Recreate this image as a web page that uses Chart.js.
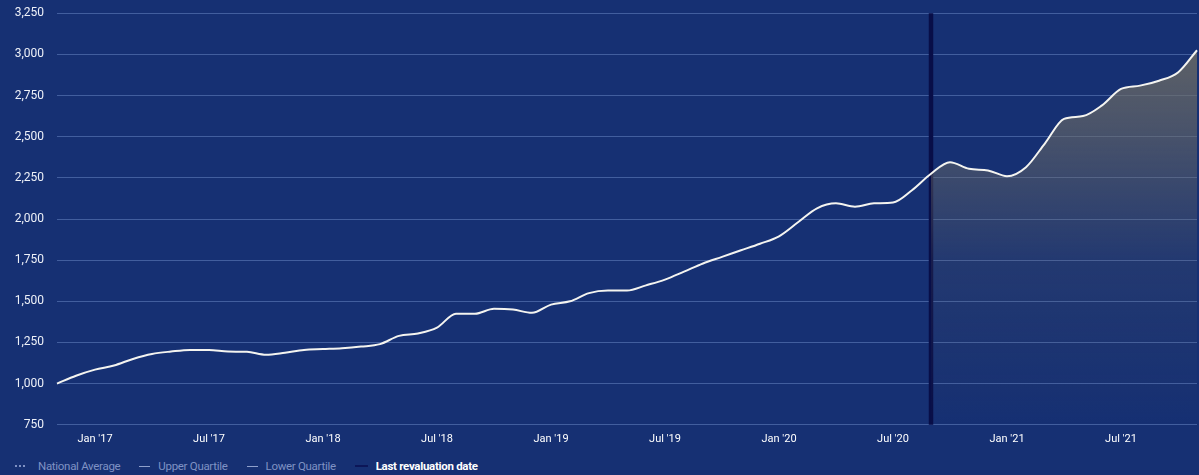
<!DOCTYPE html>
<html>
<head>
<meta charset="utf-8">
<script src="https://cdn.jsdelivr.net/npm/chart.js@4"></script>
<style>
  html, body { margin: 0; padding: 0; background: #163073; width: 1199px; height: 475px; overflow: hidden; }
  #wrap { position: absolute; left: 0; top: -7px; width: 1199px; height: 461px; }
  #legend { position: absolute; left: 15px; top: 459px; font-family: Roboto, "Liberation Sans", sans-serif; font-size: 11.5px; color: #7f92c4; display: flex; align-items: center; letter-spacing: -0.3px; }
  #legend .item { display: flex; align-items: center; margin-right: 19px; }
  #legend .mk { display: inline-block; width: 11px; margin-right: 8px; }
  #legend .b { color: #ffffff; font-weight: bold; }
</style>
</head>
<body>
<div id="wrap"><canvas id="c"></canvas></div>
<div id="legend">
  <div class="item"><span class="mk" style="border-top:2px dotted #7f92c4;width:10px;margin-right:13px"></span>National Average</div>
  <div class="item"><span class="mk" style="border-top:1.5px solid #8fa0cc"></span>Upper Quartile</div>
  <div class="item"><span class="mk" style="border-top:1.5px solid #8fa0cc"></span>Lower Quartile</div>
  <div class="item"><span class="mk" style="border-top:2px solid #0c1658;width:13px"></span><span class="b">Last revaluation date</span></div>
</div>
<script>
const months = ["Nov '16","Dec '16",
  "Jan '17","Feb '17","Mar '17","Apr '17","May '17","Jun '17","Jul '17","Aug '17","Sep '17","Oct '17","Nov '17","Dec '17",
  "Jan '18","Feb '18","Mar '18","Apr '18","May '18","Jun '18","Jul '18","Aug '18","Sep '18","Oct '18","Nov '18","Dec '18",
  "Jan '19","Feb '19","Mar '19","Apr '19","May '19","Jun '19","Jul '19","Aug '19","Sep '19","Oct '19","Nov '19","Dec '19",
  "Jan '20","Feb '20","Mar '20","Apr '20","May '20","Jun '20","Jul '20","Aug '20","Sep '20","Oct '20","Nov '20","Dec '20",
  "Jan '21","Feb '21","Mar '21","Apr '21","May '21","Jun '21","Jul '21","Aug '21","Sep '21","Oct '21","Nov '21"];
const values = [1000,1048,1085,1110,1150,1180,1195,1205,1205,1195,1193,1175,1188,1205,1210,
  1215,1225,1240,1290,1305,1340,1425,1425,1455,1450,1430,1480,1500,1550,1565,
  1565,1597,1632,1680,1730,1770,1810,1850,1895,1980,2065,2095,2075,2095,2100,
  2175,2275,2345,2305,2295,2260,2315,2460,2608,2625,2690,2790,2810,2840,2890,3025];
const yTicks = [750,1000,1250,1500,1750,2000,2250,2500,2750,3000,3250];
const revaluationLabel = "Sep '20";
const revalIndex = months.indexOf(revaluationLabel);
const filledValues = values.map((v, i) => i >= revalIndex ? v : null);

const revalPlugin = {
  id: 'reval',
  beforeDatasetsDraw(chart) {
    const x = chart.scales.x.getPixelForValue(revalIndex);
    const { top, bottom } = chart.chartArea;
    const ctx = chart.ctx;
    ctx.save();
    ctx.strokeStyle = '#080e48';
    ctx.lineWidth = 4.5;
    ctx.beginPath();
    ctx.moveTo(x, top);
    ctx.lineTo(x, bottom);
    ctx.stroke();
    ctx.restore();
  }
};

const ctx = document.getElementById('c').getContext('2d');
new Chart(ctx, {
  type: 'line',
  data: {
    labels: months,
    datasets: [
      {
        label: 'Index',
        data: values,
        borderColor: '#f4f4f0',
        borderWidth: 2,
        pointRadius: 0,
        tension: 0.4,
        cubicInterpolationMode: 'monotone',
        fill: false,
        order: 0
      },
      {
        label: 'fill',
        data: filledValues,
        borderWidth: 0,
        borderColor: 'rgba(0,0,0,0)',
        pointRadius: 0,
        tension: 0.4,
        cubicInterpolationMode: 'monotone',
        fill: 'start',
        order: 1,
        backgroundColor(context) {
          const ca = context.chart.chartArea;
          if (!ca) return 'rgba(110,108,100,0.6)';
          const g = context.chart.ctx.createLinearGradient(0, ca.top, 0, ca.bottom);
          g.addColorStop(0, 'rgba(112,110,100,0.9)');
          g.addColorStop(0.3, 'rgba(112,110,100,0.55)');
          g.addColorStop(0.6, 'rgba(112,110,100,0.15)');
          g.addColorStop(1, 'rgba(112,110,100,0.0)');
          return g;
        }
      }
    ]
  },
  options: {
    responsive: true,
    maintainAspectRatio: false,
    animation: false,
    layout: { padding: { top: 0, right: 2, left: 0, bottom: 0 } },
    plugins: { legend: { display: false }, tooltip: { enabled: false } },
    scales: {
      x: {
        grid: { display: false, drawTicks: false },
        border: { display: false },
        afterFit(scale) { scale.paddingRight = 0; scale.paddingLeft = 0; },
        ticks: {
          autoSkip: false,
          maxRotation: 0,
          color: '#ffffff',
          padding: 8,
          font: { family: 'Roboto, "Liberation Sans", sans-serif', size: 11 },
          callback(value) {
            const l = months[value];
            return (l.startsWith('Jan') || l.startsWith('Jul')) ? l : '';
          }
        }
      },
      y: {
        min: yTicks[0],
        max: yTicks[yTicks.length - 1],
        afterBuildTicks(scale) { scale.ticks = yTicks.map(v => ({ value: v })); },
        afterFit(scale) { scale.width = 57; },
        grid: { color: 'rgba(120,150,210,0.45)', lineWidth: 1, drawTicks: false },
        border: { display: false },
        ticks: {
          color: '#eef1f8',
          padding: 13,
          font: { family: 'Roboto, "Liberation Sans", sans-serif', size: 12 },
          callback(v) { return v.toLocaleString('en-US'); }
        }
      }
    }
  },
  plugins: [revalPlugin]
});
</script>
</body>
</html>
